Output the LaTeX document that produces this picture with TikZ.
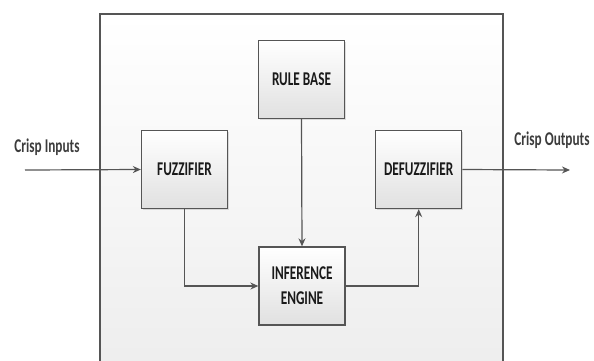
\documentclass[tikz,border=0pt]{standalone}
\usepackage{fontspec}
\newfontfamily\lblfont[FakeStretch=0.68]{Carlito}
\usetikzlibrary{arrows.meta,shadows}
\definecolor{edgegray}{HTML}{555555}
\definecolor{txtgray}{HTML}{1A1A1A}
\tikzset{
  blockbox/.style={draw=edgegray, line width=1.3pt, top color=white, bottom color=black!12,
    minimum width=86pt, minimum height=78pt, inner sep=2pt, align=center,
    font=\lblfont\bfseries\fontsize{19.5}{25}\selectfont, text=txtgray,
    drop shadow={opacity=0.25, shadow xshift=1.2pt, shadow yshift=-1.2pt}},
  conn/.style={draw=edgegray, line width=1.2pt, -{Stealth[length=8pt,width=7pt]}},
  lbl/.style={font=\lblfont\bfseries\fontsize{19.5}{23}\selectfont, text=txtgray!85, inner sep=0pt, anchor=base}
}
\begin{document}
\begin{tikzpicture}[x=1pt,y=-1pt]
\useasboundingbox (0,0) rectangle (594,360);
\clip (0,0) rectangle (594,360);
\fill[white] (0,0) rectangle (594,360);
\path[draw=edgegray, line width=1.3pt, top color=white, bottom color=black!7] (100,14) rectangle (503,375);
\node[blockbox] (rule) at (301.5,79.5) {RULE BASE};
\node[blockbox] (fuzz) at (184.5,169.5) {FUZZIFIER};
\node[blockbox] (defuzz) at (418.7,169.5) {DEFUZZIFIER};
\node[blockbox] (inf) at (302,286) {INFERENCE\\ENGINE};
\coordinate (in) at (25,170);
\coordinate (out) at (570,170);
\node[lbl] (inlbl) at (47,152) {Crisp Inputs};
\node[lbl] (outlbl) at (552,145) {Crisp Outputs};
\draw[conn] (in) -- (fuzz.west);
\draw[conn] (defuzz.east) -- (out);
\draw[conn] (rule.south) -- (inf.north);
\draw[conn] (fuzz.south) |- (inf.west);
\draw[conn] (inf.east) -| (defuzz.south);
\end{tikzpicture}
\end{document}
